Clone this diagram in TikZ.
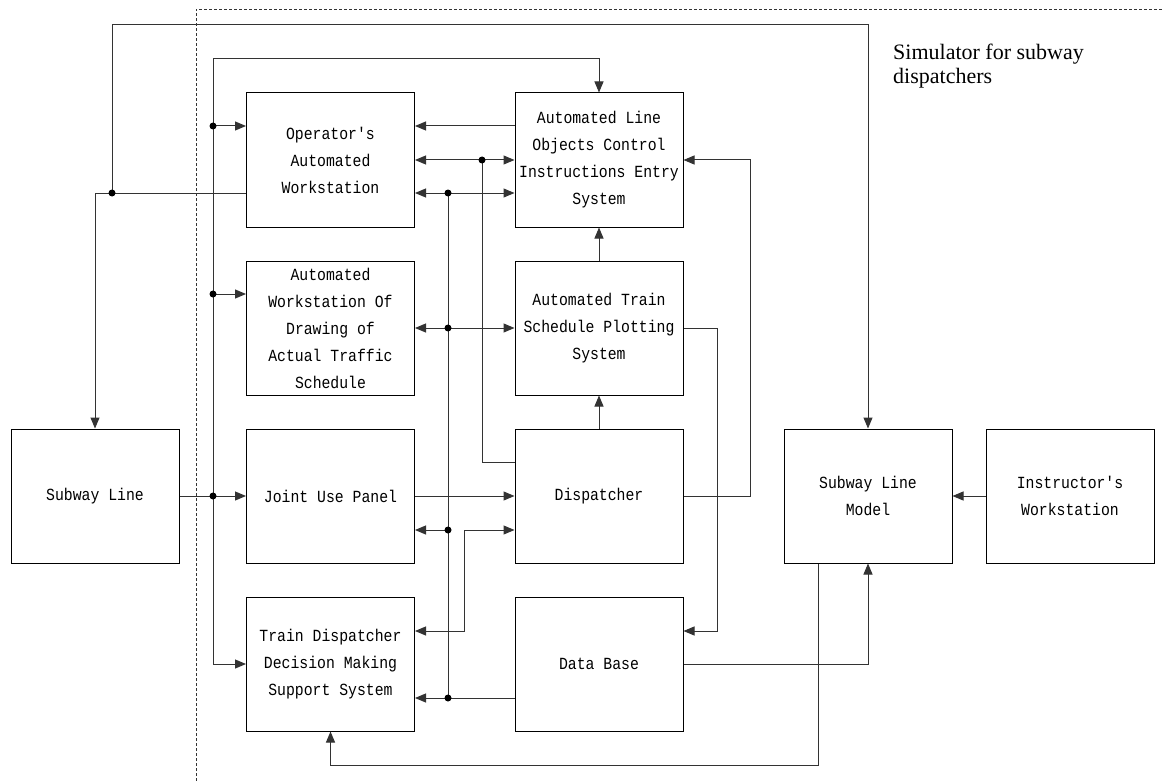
\documentclass[tikz,border=0pt]{standalone}
\usepackage{fontspec}
\setmonofont{Liberation Mono}[FakeStretch=0.87]
\newfontfamily\lblfont{Liberation Serif}
\usetikzlibrary{arrows.meta,calc}
\begin{document}
\begin{tikzpicture}[x=1pt,y=-1pt,
  blk/.style={draw=black, line width=1pt, minimum width=168pt, minimum height=134pt, inner sep=0pt, align=center, font=\ttfamily\fontsize{17}{27}\selectfont},
  wire/.style={draw=black!80, line width=1pt},
  arr/.style={wire,-{Triangle[length=11pt,width=9pt]}},
  arr2/.style={wire,{Triangle[length=11pt,width=9pt]}-{Triangle[length=11pt,width=9pt]}},
  jdot/.style={circle, fill=black, inner sep=0pt, minimum size=7pt}]
\fill[white] (0,0) rectangle (1162,781);
\useasboundingbox (0,0) rectangle (1162,781);

% frame
\draw[black!80, line width=0.8pt, dash pattern=on 3pt off 2pt] (196,781) -- (196,9) -- (1162,9);
\node[anchor=north west, inner sep=0pt, align=left, font=\lblfont\fontsize{22}{24}\selectfont] (lbl) at (893,44) {Simulator for subway\\dispatchers};

% blocks
\node[blk] (oaw) at (330.5,160) {Operator's\\Automated\\Workstation};
\node[blk] (alo) at (599,160) {Automated Line\\Objects Control\\Instructions Entry\\System};
\node[blk] (awd) at (330.5,328) {Automated\\Workstation Of\\Drawing of\\Actual Traffic\\Schedule};
\node[blk] (ats) at (599,328) {Automated Train\\Schedule Plotting\\System};
\node[blk] (jup) at (330.5,496) {Joint Use Panel};
\node[blk] (dsp) at (599,496) {Dispatcher};
\node[blk] (tdd) at (330.5,664) {Train Dispatcher\\Decision Making\\Support System};
\node[blk] (db) at (599,664) {Data Base};
\node[blk] (sl) at (95,496) {Subway Line};
\node[blk] (slm) at (868,496) {Subway Line\\Model};
\node[blk] (iw) at (1070,496) {Instructor's\\Workstation};

% helper rows / columns
\coordinate (ya) at (0,126); \coordinate (yb) at (0,160); \coordinate (yc) at (0,193);
\coordinate (yd) at (0,294); \coordinate (ye) at (0,328); \coordinate (yf) at (0,462);
\coordinate (yg) at (0,496); \coordinate (yh) at (0,530); \coordinate (yi) at (0,631);
\coordinate (yk) at (0,698); \coordinate (yt1) at (0,25); \coordinate (yt2) at (0,59);
\coordinate (ybot) at (0,765);
\coordinate (xa) at (112,0); \coordinate (xb) at (213,0); \coordinate (xc) at (448,0);
\coordinate (xd) at (464,0); \coordinate (xe) at (482,0); \coordinate (xf) at (717,0);
\coordinate (xg) at (750,0); \coordinate (xh) at (818,0);

% connectors
\draw[arr] (oaw.west |- yc) -| (sl.north);
\draw[arr] (xa |- yc) -- (xa |- yt1) -| (slm.north);
\draw[arr] (sl.east) -- (jup.west);
\draw[arr] (xb |- yg) -- (xb |- yt2) -| (alo.north);
\draw[arr] (xb |- yg) |- (tdd.west);
\draw[arr] (xb |- ya) -- (oaw.west |- ya);
\draw[arr] (xb |- yd) -- (awd.west |- yd);
\draw[arr] (alo.west |- ya) -- (oaw.east |- ya);
\draw[arr2] (oaw.east |- yb) -- (alo.west |- yb);
\draw[wire] (xe |- yb) |- (dsp.west |- yf);
\draw[arr2] (oaw.east |- yc) -- (alo.west |- yc);
\draw[wire] (xc |- yc) -- (xc |- yk);
\draw[arr] (db.west |- yk) -- (tdd.east |- yk);
\draw[arr2] (awd.east |- ye) -- (ats.west |- ye);
\draw[arr] (xc |- yh) -- (jup.east |- yh);
\draw[arr] (jup.east) -- (dsp.west);
\draw[arr2] (tdd.east |- yi) -- (xd |- yi) |- (dsp.west |- yh);
\draw[arr] (dsp.north) -- (ats.south);
\draw[arr] (ats.north) -- (alo.south);
\draw[arr] (dsp.east) -| (xg |- yb) -- (alo.east |- yb);
\draw[arr] (ats.east) -| (xf |- yi) -- (db.east |- yi);
\draw[arr] (db.east) -| (slm.south);
\draw[arr] (xh |- slm.south) -- (xh |- ybot) -| (tdd.south);
\draw[arr] (iw.west) -- (slm.east);

% junction dots
\node[jdot] (j1) at (xa |- yc) {};
\node[jdot] (j2) at (xb |- ya) {};
\node[jdot] (j3) at (xb |- yd) {};
\node[jdot] (j4) at (xb |- yg) {};
\node[jdot] (j5) at (xe |- yb) {};
\node[jdot] (j6) at (xc |- yc) {};
\node[jdot] (j7) at (xc |- ye) {};
\node[jdot] (j8) at (xc |- yh) {};
\node[jdot] (j9) at (xc |- yk) {};
\end{tikzpicture}
\end{document}
